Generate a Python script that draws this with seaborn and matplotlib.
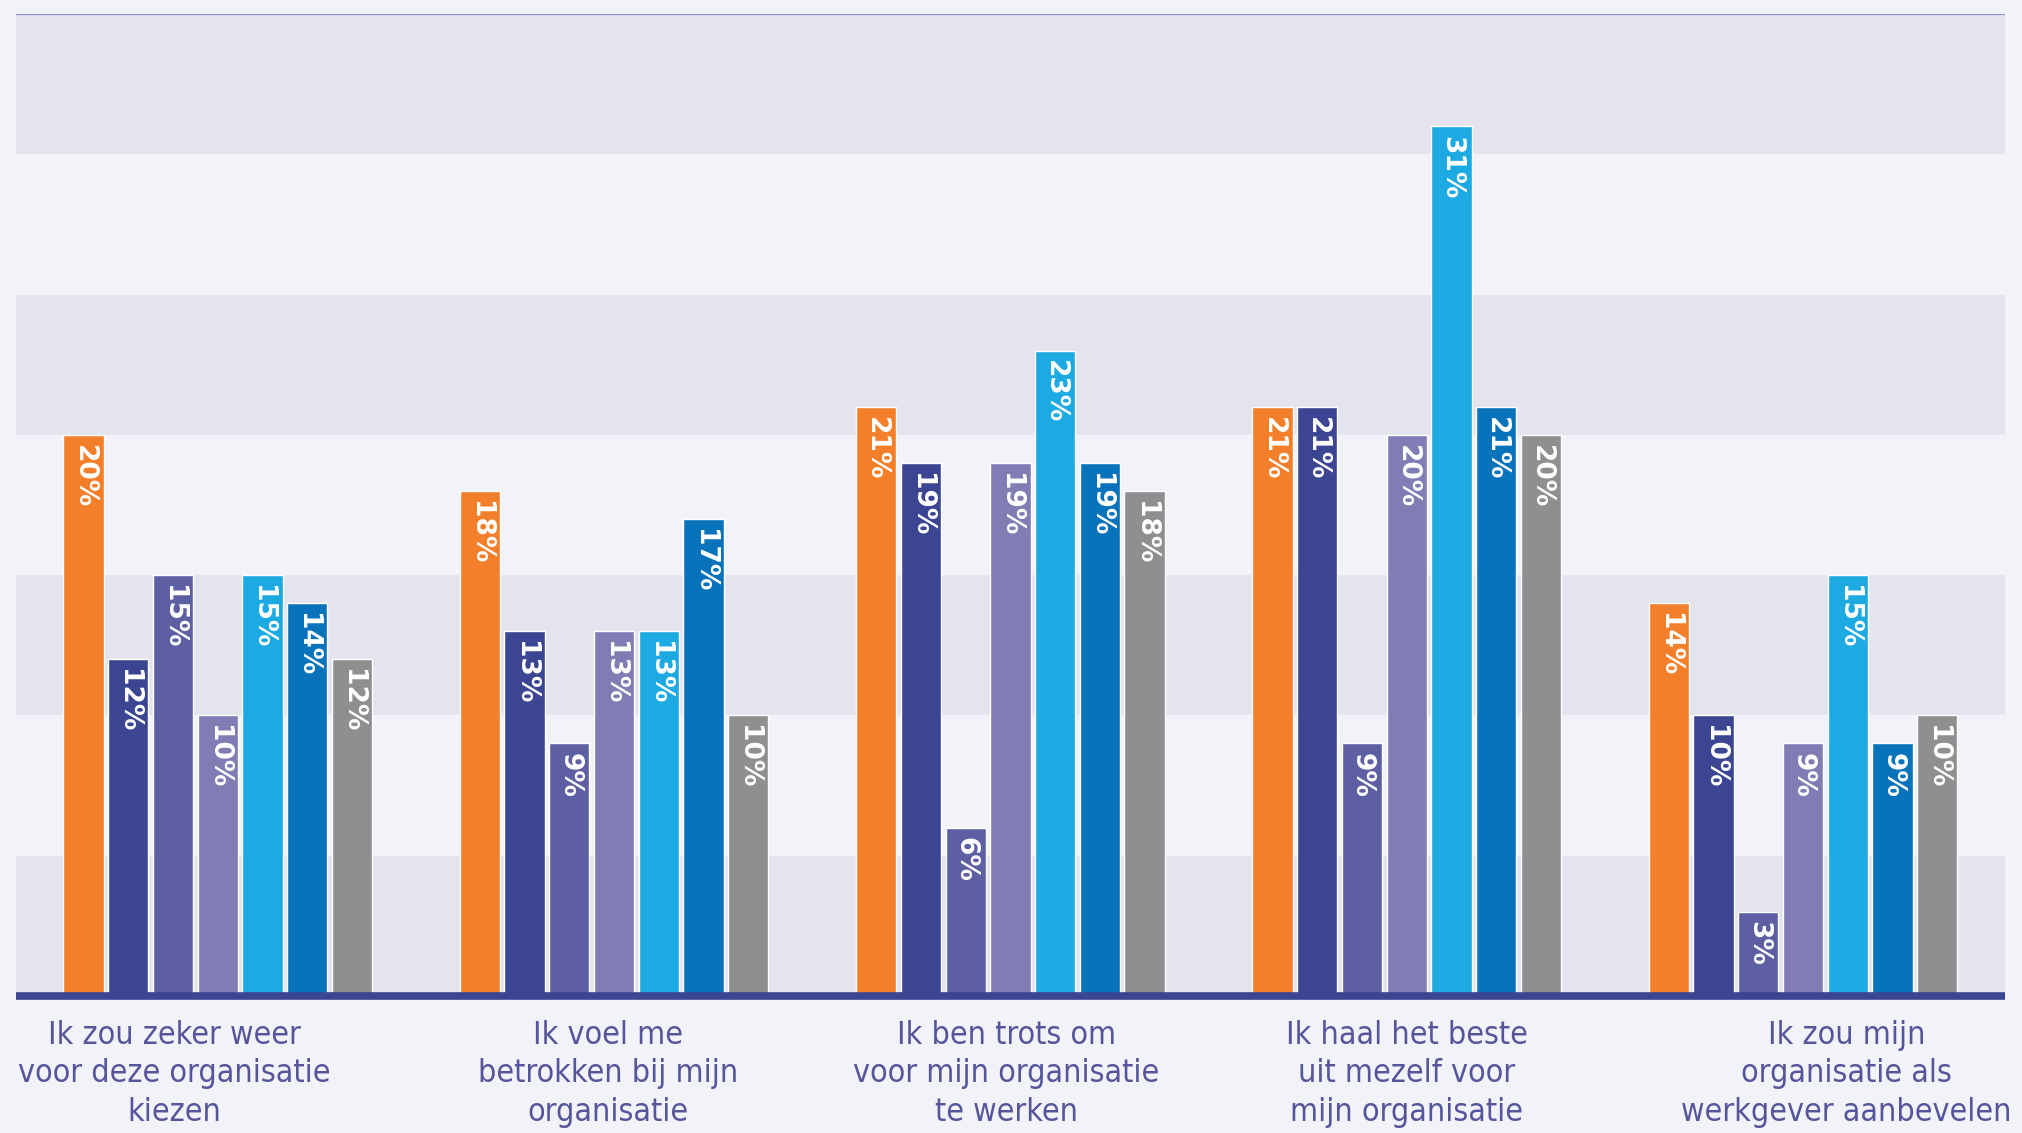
import pandas as pd
import matplotlib.pyplot as plt
import matplotlib.font_manager as fm
import seaborn as sns

# Data (percentages)
stellingen = [
    "Ik zou zeker weer\nvoor deze organisatie\nkiezen",
    "Ik voel me\nbetrokken bij mijn\norganisatie",
    "Ik ben trots om\nvoor mijn organisatie\nte werken",
    "Ik haal het beste\nuit mezelf voor\nmijn organisatie",
    "Ik zou mijn\norganisatie als\nwerkgever aanbevelen",
]
groepen = ["Groep 1", "Groep 2", "Groep 3", "Groep 4", "Groep 5", "Groep 6", "Groep 7"]
groep_1 = [20, 18, 21, 21, 14]
groep_2 = [12, 13, 19, 21, 10]
groep_3 = [15, 9, 6, 9, 3]
groep_4 = [10, 13, 19, 20, 9]
groep_5 = [15, 13, 23, 31, 15]
groep_6 = [14, 17, 19, 21, 9]
groep_7 = [12, 10, 18, 20, 10]

kleuren = ["#F47F2A", "#3B4592", "#5E5FA2", "#7F7DB3", "#1DAAE2", "#0873BA", "#8E8F91"]

# small horizontal shift of the category labels (as in the original layout)
label_shift = [-0.11, -0.015, -0.01, 0.0, 0.11]

series = [groep_1, groep_2, groep_3, groep_4, groep_5, groep_6, groep_7]
rows = []
for g, vals in zip(groepen, series):
    for s, v in zip(stellingen, vals):
        rows.append({"stelling": s, "groep": g, "waarde": v})
df = pd.DataFrame(rows)

sns.set_theme(style="white")
plt.rcParams['font.family'] = ['DejaVu Sans']

# use a regular-weight condensed font file for the category labels if there is one
label_font = None
for f in fm.fontManager.ttflist:
    if f.stretch in ("condensed", "semi-condensed") and f.weight in (400, "normal", "regular") \
            and f.style == "normal":
        label_font = fm.FontProperties(fname=f.fname, size=23)
        break
if label_font is None:
    label_font = fm.FontProperties(family="DejaVu Sans", size=20)

bg = "#F2F3F8"
band = "#E4E4EE"
fig = plt.figure(figsize=(20.22, 11.33), dpi=100, facecolor=bg)
ax = fig.add_axes([0.0077, 0.121, 0.984, 0.8666])
ax.set_facecolor(bg)

# alternating horizontal bands every 5%
for i in range(7):
    ax.axhspan(i * 5, (i + 1) * 5, color=band if i % 2 == 0 else bg, zorder=0, lw=0)

sns.barplot(data=df, x="stelling", y="waarde", hue="groep", palette=kleuren,
            width=0.79, gap=0.1, saturation=1, legend=False, ax=ax, zorder=2)

# value labels inside the bars, rotated
for cont in ax.containers:
    for bar in cont:
        h = bar.get_height()
        ax.annotate(f"{h:.0f}%", (bar.get_x() + bar.get_width() / 2, h),
                    xytext=(0, -7), textcoords="offset points",
                    rotation=270, ha="center", va="top",
                    color="white", fontsize=19, fontweight="bold", zorder=3)

ax.set_ylim(0, 35)
ax.set_xlim(-0.51, 4.51)
ax.axhline(35, color="#8B8DC4", lw=1.6, zorder=4)
ax.axhline(0, color="#3B4592", lw=5.5, zorder=4, solid_capstyle="butt", clip_on=False)

for s in ax.spines.values():
    s.set_visible(False)
ax.set_yticks([])
ax.set_xlabel("")
ax.set_ylabel("")
ax.set_xticks([i + d for i, d in enumerate(label_shift)])
ax.set_xticklabels(stellingen, fontproperties=label_font, color="#55559B", linespacing=1.32)
ax.tick_params(axis="x", length=0, pad=17)

plt.savefig("out.png", dpi=100, facecolor=bg)
